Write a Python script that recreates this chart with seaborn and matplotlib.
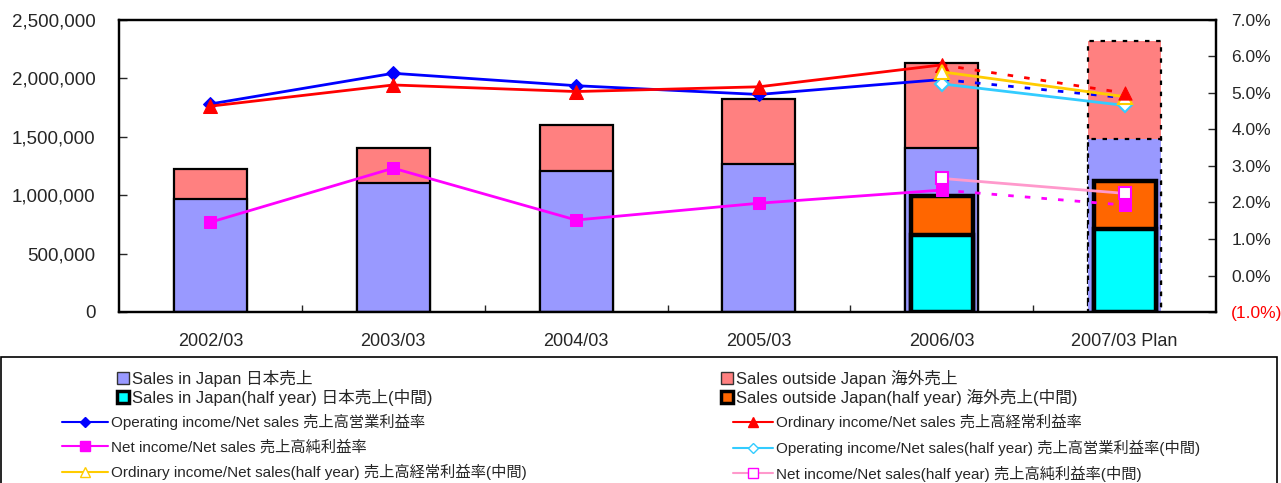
import numpy as np
import pandas as pd
import matplotlib
matplotlib.use("Agg")
import matplotlib.pyplot as plt
import seaborn as sns
from matplotlib.patches import Patch, Rectangle
from matplotlib.lines import Line2D
from matplotlib.ticker import FixedLocator

# ---------------- data ----------------
categories = ["2002/03", "2003/03", "2004/03", "2005/03", "2006/03", "2007/03 Plan"]
sales_japan = [967000, 1107000, 1210000, 1267000, 1407000, 1481000]
sales_outside = [257000, 300000, 394000, 559000, 722000, 842000]
half_categories = ["2006/03", "2007/03 Plan"]
half_japan = [659000, 711000]
half_outside = [334000, 411000]

op_margin = [4.70, 5.54, 5.20, 4.96, 5.37]
ord_margin = [4.64, 5.22, 5.04, 5.17, 5.77]
net_margin = [1.46, 2.94, 1.52, 1.98, 2.34]
op_plan = 4.87
ord_plan = 5.00
net_plan = 1.93
op_half = [5.25, 4.66]
ord_half = [5.58, 4.90]
net_half = [2.66, 2.25]

left_ticks = [0, 500000, 1000000, 1500000, 2000000, 2500000]
left_labels = ["0", "500,000", "1,000,000", "1,500,000", "2,000,000", "2,500,000"]
right_ticks = [-1, 0, 1, 2, 3, 4, 5, 6, 7]
right_labels = ["(1.0%)", "0.0%", "1.0%", "2.0%", "3.0%", "4.0%", "5.0%", "6.0%", "7.0%"]

legend_labels = [
    "Sales in Japan 日本売上",
    "Sales outside Japan 海外売上",
    "Sales in Japan(half year) 日本売上(中間)",
    "Sales outside Japan(half year) 海外売上(中間)",
    "Operating income/Net sales 売上高営業利益率",
    "Ordinary income/Net sales 売上高経常利益率",
    "Net income/Net sales 売上高純利益率",
    "Operating income/Net sales(half year) 売上高営業利益率(中間)",
    "Ordinary income/Net sales(half year) 売上高経常利益率(中間)",
    "Net income/Net sales(half year) 売上高純利益率(中間)",
]

# ---------------- style ----------------
sns.set_theme(style="white")
plt.rcParams["font.family"] = ["Liberation Sans", "Noto Sans CJK JP", "DejaVu Sans"]

C_JP = "#9999FF"
C_OUT = "#FF8080"
C_HJP = "#00FFFF"
C_HOUT = "#FF6600"
C_OP = "#0000FF"
C_ORD = "#FF0000"
C_NET = "#FF00FF"
C_OPH = "#33CCFF"
C_ORDH = "#FFCC00"
C_NETH = "#FF99CC"

fig = plt.figure(figsize=(12.81, 4.83), dpi=100)
ax = fig.add_axes([119 / 1281, 1 - 312 / 483, (1216 - 119) / 1281, (312 - 20) / 483])

df = pd.DataFrame({
    "cat": categories,
    "japan": sales_japan,
    "total": np.array(sales_japan) + np.array(sales_outside),
})
hdf = pd.DataFrame({
    "cat": half_categories,
    "japan": half_japan,
    "total": np.array(half_japan) + np.array(half_outside),
})

# full-year stacked bars (total drawn first, Japan on top)
sns.barplot(data=df, x="cat", y="total", order=categories, color=C_OUT, saturation=1,
            width=0.4, edgecolor="black", linewidth=1.6, ax=ax)
n0 = len(ax.patches)
sns.barplot(data=df, x="cat", y="japan", order=categories, color=C_JP, saturation=1,
            width=0.4, edgecolor="black", linewidth=1.6, ax=ax)
# plan bar: dashed outline
for i, p in enumerate(ax.patches):
    if i % n0 == len(categories) - 1:
        p.set_linestyle((0, (2, 3)))
# half-year bars
sns.barplot(data=hdf, x="cat", y="total", order=categories, color=C_HOUT, saturation=1,
            width=0.34, edgecolor="black", linewidth=3.2, ax=ax)
sns.barplot(data=hdf, x="cat", y="japan", order=categories, color=C_HJP, saturation=1,
            width=0.34, edgecolor="black", linewidth=3.2, ax=ax)

ax.set_xlim(-0.5, len(categories) - 0.5)
ax.set_ylim(0, 2500000)
ax.yaxis.set_major_locator(FixedLocator(left_ticks))
ax.set_yticklabels(left_labels)
ax.set_xlabel("")
ax.set_ylabel("")
ax.tick_params(axis="y", direction="in", length=6, width=1, labelsize=13.5, pad=17, left=True)
ax.tick_params(axis="x", which="major", length=0, labelsize=13, pad=15)
ax.xaxis.set_minor_locator(FixedLocator(np.arange(0.5, len(categories) - 0.5, 1)))
ax.tick_params(axis="x", which="minor", direction="in", length=5, width=1, bottom=True)
for s in ax.spines.values():
    s.set_color("black")
    s.set_linewidth(1.6)

# ---------------- lines on secondary axis ----------------
ax2 = ax.twinx()
xs = np.arange(len(categories))
x_full = xs[: len(op_margin)]
x_plan = [xs[len(op_margin) - 1], xs[-1]]
x_half = [categories.index(c) for c in half_categories]

# dotted plan segments
for vals, plan, col in [(op_margin, op_plan, C_OP), (ord_margin, ord_plan, C_ORD), (net_margin, net_plan, C_NET)]:
    sns.lineplot(x=x_plan, y=[vals[-1], plan], color=col, linewidth=2, linestyle=(0, (2, 4)), ax=ax2)

sns.lineplot(x=x_full, y=op_margin, color=C_OP, linewidth=2, marker="D", markersize=7,
             markeredgecolor=C_OP, ax=ax2)
sns.lineplot(x=x_full, y=ord_margin, color=C_ORD, linewidth=2, marker="^", markersize=10,
             markeredgecolor=C_ORD, ax=ax2)
sns.lineplot(x=x_full, y=net_margin, color=C_NET, linewidth=2, marker="s", markersize=9,
             markeredgecolor=C_NET, ax=ax2)
# plan markers
sns.scatterplot(x=[xs[-1]], y=[ord_plan], color=C_ORD, marker="^", s=90, edgecolor=C_ORD, ax=ax2, zorder=3)
sns.scatterplot(x=[xs[-1]], y=[net_plan], color=C_NET, marker="s", s=80, edgecolor=C_NET, ax=ax2, zorder=3)

# half-year lines
sns.lineplot(x=x_half, y=op_half, color=C_OPH, linewidth=2, marker="D", markersize=7,
             markerfacecolor="white", markeredgecolor=C_OPH, markeredgewidth=1.5, ax=ax2)
sns.lineplot(x=x_half, y=ord_half, color=C_ORDH, linewidth=2, marker="^", markersize=10,
             markerfacecolor="white", markeredgecolor=C_ORDH, markeredgewidth=1.5, ax=ax2)
sns.lineplot(x=x_half, y=net_half, color=C_NETH, linewidth=2, marker="s", markersize=9,
             markerfacecolor="white", markeredgecolor=C_NET, markeredgewidth=1.5, ax=ax2)

ax2.set_ylim(-1, 7)
ax2.yaxis.set_major_locator(FixedLocator(right_ticks))
ax2.set_yticklabels(right_labels)
ax2.tick_params(axis="y", direction="in", length=6, width=1, labelsize=12.5, pad=11, right=True)
for t, v in zip(ax2.get_yticklabels(), right_ticks):
    if v < 0:
        t.set_color("red")
ax2.set_ylabel("")
ax2.grid(False)
ax.grid(False)
for s in ax2.spines.values():
    s.set_color("black")
    s.set_linewidth(1.6)
if ax2.get_legend() is not None:
    ax2.get_legend().remove()

# ---------------- legend ----------------
fig.patches.append(Rectangle((1 / 1281, -0.05), 1276 / 1281, 0.05 + (1 - 357 / 483),
                             transform=fig.transFigure, fill=False, edgecolor="black",
                             linewidth=1.2))

patch_h = [
    Patch(facecolor=C_JP, edgecolor="#333333", linewidth=1),
    Patch(facecolor=C_OUT, edgecolor="#333333", linewidth=1),
    Patch(facecolor=C_HJP, edgecolor="black", linewidth=2.5),
    Patch(facecolor=C_HOUT, edgecolor="black", linewidth=2.5),
]
line_h = [
    Line2D([], [], color=C_OP, lw=1.5, marker="D", ms=5, mec=C_OP),
    Line2D([], [], color=C_ORD, lw=1.5, marker="^", ms=7, mec=C_ORD),
    Line2D([], [], color=C_NET, lw=1.5, marker="s", ms=7, mec=C_NET),
    Line2D([], [], color=C_OPH, lw=1.5, marker="D", ms=5, mfc="white", mec=C_OPH),
    Line2D([], [], color=C_ORDH, lw=1.5, marker="^", ms=7, mfc="white", mec=C_ORDH),
    Line2D([], [], color=C_NETH, lw=1.5, marker="s", ms=7, mfc="white", mec=C_NET),
]

def add_leg(handles, labels, x, y, spacing, hl, fs, hh=0.7):
    leg = fig.legend(handles, labels, loc="upper left", bbox_to_anchor=(x / 1281, 1 - y / 483),
                     bbox_transform=fig.transFigure, frameon=False, fontsize=fs,
                     labelspacing=spacing, handlelength=hl, handleheight=hh,
                     handletextpad=0.2, borderpad=0, borderaxespad=0)
    return leg

add_leg([patch_h[0], patch_h[2]], [legend_labels[0], legend_labels[2]], 117, 370, 0.1, 0.7, 12)
add_leg([patch_h[1], patch_h[3]], [legend_labels[1], legend_labels[3]], 721, 370, 0.1, 0.7, 12)
add_leg([line_h[0], line_h[2], line_h[4]], [legend_labels[4], legend_labels[6], legend_labels[8]],
        62, 414, 0.62, 3.0, 11)
add_leg([line_h[1], line_h[3], line_h[5]], [legend_labels[5], legend_labels[7], legend_labels[9]],
        733, 414, 0.62, 2.6, 11)

fig.savefig("out.png", dpi=100)
